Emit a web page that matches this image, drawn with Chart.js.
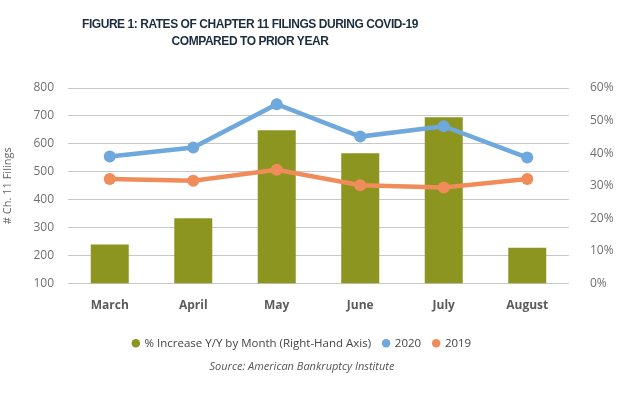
<!DOCTYPE html>
<html>
<head>
<meta charset="utf-8">
<script src="https://cdn.jsdelivr.net/npm/chart.js@4/dist/chart.umd.min.js"></script>
<style>
  html, body { margin: 0; padding: 0; background: #fff; }
  #wrap { position: relative; width: 638px; height: 395px; }
  #title {
    position: absolute; left: 0; top: 16px; width: 500px; text-align: center;
    font: bold 12px "Liberation Sans Narrow", sans-serif; letter-spacing: -0.45px;
    line-height: 17px; color: #1d2d3f;
  }
  #source {
    position: absolute; left: 0; top: 359px; width: 604px; text-align: center;
    font: italic 11px "Open Sans", sans-serif; line-height: 14px; color: #555;
  }
  canvas { position: absolute; left: 0; top: 0; }
</style>
</head>
<body>
<div id="wrap">
  <canvas id="chart" width="638" height="395"></canvas>
  <div id="title">FIGURE 1: RATES OF CHAPTER 11 FILINGS DURING COVID-19<br>COMPARED TO PRIOR YEAR</div>
  <div id="source">Source: American Bankruptcy Institute</div>
</div>
<script>
const months = ["March", "April", "May", "June", "July", "August"];
const pctIncrease = [12, 20, 47, 40, 51, 11];
const filings2020 = [555, 587, 742, 626, 663, 551];
const filings2019 = [474, 468, 507, 452, 444, 474];
const leftTicks = [100, 200, 300, 400, 500, 600, 700, 800];
const rightTicks = [0, 10, 20, 30, 40, 50, 60];

const olive = '#8b951f';
const blue = '#6fa8dc';
const orange = '#f08c5a';

// legend is centred a little left of the canvas middle in the original
const shiftLegend = {
  id: 'shiftLegend',
  afterLayout(chart) {
    if (chart.legend) {
      chart.legend.left -= 17;
      chart.legend.right -= 17;
    }
  }
};

new Chart(document.getElementById('chart'), {
  type: 'bar',
  data: {
    labels: months,
    datasets: [
      {
        type: 'bar',
        label: '% Increase Y/Y by Month (Right-Hand Axis)',
        data: pctIncrease,
        yAxisID: 'y1',
        backgroundColor: olive,
        borderWidth: 0,
        barPercentage: 0.455,
        categoryPercentage: 1,
        order: 2
      },
      {
        type: 'line',
        label: '2020',
        data: filings2020,
        yAxisID: 'y',
        borderColor: blue,
        backgroundColor: blue,
        pointBackgroundColor: blue,
        pointBorderWidth: 0,
        borderWidth: 4.5,
        pointRadius: 6,
        tension: 0,
        order: 0
      },
      {
        type: 'line',
        label: '2019',
        data: filings2019,
        yAxisID: 'y',
        borderColor: orange,
        backgroundColor: orange,
        pointBackgroundColor: orange,
        pointBorderWidth: 0,
        borderWidth: 4.5,
        pointRadius: 6,
        tension: 0,
        order: 1
      }
    ]
  },
  options: {
    responsive: false,
    animation: false,
    layout: { padding: { top: 88, bottom: 36, left: 0, right: 0 } },
    plugins: {
      tooltip: { enabled: false },
      legend: {
        position: 'bottom',
        labels: {
          usePointStyle: true,
          pointStyle: 'circle',
          boxWidth: 6,
          boxHeight: 6,
          padding: 12,
          color: '#444',
          font: { family: 'Open Sans', size: 11.5 },
          sort: (a, b) => a.datasetIndex - b.datasetIndex
        }
      }
    },
    scales: {
      x: {
        grid: { display: false },
        border: { display: false },
        ticks: { color: '#5b5b5b', padding: 7, font: { family: 'Open Sans', size: 12, weight: 'bold' } },
        afterFit: s => { s.height = 42; }
      },
      y: {
        position: 'left',
        min: 100,
        max: 800,
        afterBuildTicks: s => { s.ticks = leftTicks.map(v => ({ value: v })); },
        grid: { color: '#c8c8c8', lineWidth: 1, drawTicks: false },
        border: { display: false },
        ticks: { color: '#707070', padding: 14, font: { family: 'Open Sans', size: 12 } },
        title: {
          display: true,
          text: '# Ch. 11 Filings',
          color: '#666',
          padding: { top: 1, bottom: 4 },
          font: { family: 'Open Sans', size: 11 }
        },
        afterFit: s => { s.width = 68; }
      },
      y1: {
        position: 'right',
        min: 0,
        max: 60,
        afterBuildTicks: s => { s.ticks = rightTicks.map(v => ({ value: v })); },
        grid: { display: false, drawOnChartArea: false },
        border: { display: false },
        ticks: { color: '#707070', padding: 13, font: { family: 'Open Sans', size: 12 }, callback: v => v + '%' },
        afterFit: s => { s.width = 69; }
      }
    }
  },
  plugins: [shiftLegend]
});
</script>
</body>
</html>
